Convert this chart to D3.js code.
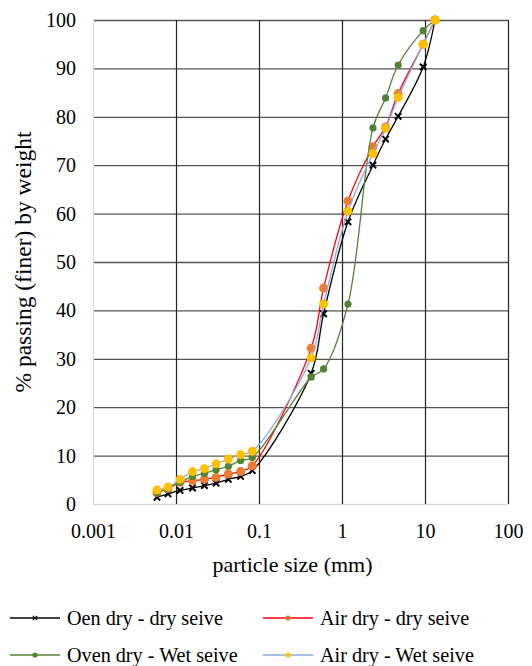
<!DOCTYPE html>
<html>
<head>
<meta charset="utf-8">
<script src="https://cdn.jsdelivr.net/npm/d3@7"></script>
</head>
<body style="margin:0; font-family: 'Times New Roman', 'Liberation Serif', serif">
<script>
// particle sizes (mm)
const sizes = [0.0059, 0.008, 0.0112, 0.0158, 0.022, 0.0304, 0.0427, 0.06, 0.083,
  0.425, 0.6, 1.18, 2.36, 3.35, 4.75, 9.5, 13.2];

const ovenDry = [1.4, 2.1, 2.8, 3.3, 3.8, 4.3, 5.1, 5.7, 6.9,
  27.0, 39.3, 58.3, 70.0, 75.4, 80.1, 90.3, 100];
const airDry = [2.4, 3.2, 4.5, 4.8, 5.1, 5.5, 6.2, 6.7, 7.9,
  32.2, 44.6, 62.6, 73.8, 77.9, 84.8, 95.0, 100];
const ovenWet = [2.3, 3.2, 4.5, 5.7, 6.3, 7.1, 7.8, 9.0, 9.6,
  26.2, 27.9, 41.3, 77.7, 83.9, 90.7, 97.8, 100];
const airWet = [2.9, 3.5, 5.1, 6.7, 7.3, 8.3, 9.3, 10.2, 10.9,
  30.2, 41.3, 60.5, 72.4, 77.6, 84.0, 95.0, 100];

const xTicks = [0.001, 0.01, 0.1, 1, 10, 100];
const xTickLabels = ["0.001", "0.01", "0.1", "1", "10", "100"];
const yTicks = [0, 10, 20, 30, 40, 50, 60, 70, 80, 90, 100];

const seriesInfo = [
  { label: "Oen dry - dry seive", values: ovenDry, line: "#000000", marker: "#000000", shape: "x" },
  { label: "Air dry - dry seive", values: airDry, line: "#FF0000", marker: "#ED7D31", shape: "dot", r: 4.5 },
  { label: "Oven dry - Wet seive", values: ovenWet, line: "#548235", marker: "#548235", shape: "dot", r: 3.6 },
  { label: "Air dry - Wet seive", values: airWet, line: "#8FAADC", marker: "#FFC000", shape: "dot", r: 4.5 },
];

const fontFam = "Times New Roman";
const width = 532;
const height = 666;
const margin = { top: 20, right: 24, bottom: 162, left: 93 };
const innerWidth = width - margin.left - margin.right;
const innerHeight = height - margin.top - margin.bottom;

const svg = d3.select("body").append("svg")
  .attr("width", width).attr("height", height)
  .attr("font-family", fontFam);

const xScale = d3.scaleLog().domain([0.001, 100]).range([0, innerWidth]);
const yScale = d3.scaleLinear().domain([0, 100]).range([innerHeight, 0]);

const innerChart = svg.append("g")
  .attr("transform", `translate(${margin.left}, ${margin.top})`);

// gridlines
innerChart.append("g")
  .call(d3.axisLeft(yScale).tickValues(yTicks).tickSize(-innerWidth).tickFormat(""))
  .call(g => g.select(".domain").remove())
  .call(g => g.selectAll("line").attr("stroke", "#555").attr("stroke-width", 1.3)
    .filter(d => d === 0).attr("stroke", "#d9d9d9"));

innerChart.append("g")
  .call(d3.axisBottom(xScale).tickValues(xTicks).tickSize(innerHeight).tickFormat(""))
  .call(g => g.select(".domain").remove())
  .call(g => g.selectAll("line").attr("stroke", "#222").attr("stroke-width", 1.2)
    .filter(d => d === 0.001).attr("stroke", "#d9d9d9"));

// tick labels
const leftAxis = d3.axisLeft(yScale).tickValues(yTicks).tickSize(0).tickPadding(17);
innerChart.append("g").call(leftAxis)
  .attr("font-family", fontFam).attr("font-size", 20)
  .call(g => g.select(".domain").remove())
  .call(g => g.selectAll("text").attr("fill", "#000"));

const bottomAxis = d3.axisBottom(xScale).tickValues(xTicks).tickSize(0).tickPadding(20)
  .tickFormat((d, i) => xTickLabels[i]);
innerChart.append("g").attr("transform", `translate(0, ${innerHeight})`).call(bottomAxis)
  .attr("font-family", fontFam).attr("font-size", 20)
  .call(g => g.select(".domain").remove())
  .call(g => g.selectAll("text").attr("fill", "#000"));

svg.append("text")
  .attr("x", margin.left + innerWidth / 2 - 8)
  .attr("y", 572)
  .attr("text-anchor", "middle")
  .attr("font-size", 22)
  .text("particle size (mm)");

svg.append("text")
  .attr("transform", `translate(31, ${margin.top + innerHeight / 2}) rotate(-90)`)
  .attr("text-anchor", "middle")
  .attr("font-size", 23.5)
  .text("% passing (finer) by weight");

// series
const lineGen = d3.line()
  .x(d => xScale(d[0]))
  .y(d => yScale(d[1]))
  .curve(d3.curveCatmullRom.alpha(0.5));

function drawMarker(g, shape, color, r, cx, cy) {
  if (shape === "x") {
    const s = r;
    g.append("path")
      .attr("d", `M${cx - s},${cy - s}L${cx + s},${cy + s}M${cx - s},${cy + s}L${cx + s},${cy - s}`)
      .attr("stroke", color).attr("stroke-width", r > 3 ? 2 : 1.2);
  } else {
    g.append("circle").attr("cx", cx).attr("cy", cy).attr("r", r).attr("fill", color);
  }
}

seriesInfo.forEach(s => {
  const pts = sizes.map((x, i) => [x, s.values[i]]);
  const g = innerChart.append("g");
  g.append("path")
    .attr("d", lineGen(pts))
    .attr("fill", "none")
    .attr("stroke", s.line)
    .attr("stroke-width", 1.3);
  pts.forEach(p => drawMarker(g, s.shape, s.marker, s.r || 3.2, xScale(p[0]), yScale(p[1])));
});

// legend
const legendPos = [[10, 618], [263, 618], [10, 655], [263, 655]];
seriesInfo.forEach((s, i) => {
  const [lx, ly] = legendPos[i];
  const g = svg.append("g");
  g.append("line").attr("x1", lx).attr("x2", lx + 50).attr("y1", ly).attr("y2", ly)
    .attr("stroke", s.line).attr("stroke-width", 1.3);
  drawMarker(g, s.shape, s.marker, s.shape === "x" ? 2.2 : 2.6, lx + 25, ly);
  g.append("text").attr("x", lx + 57).attr("y", ly).attr("dy", "0.35em")
    .attr("font-size", 20.2).text(s.label);
});
</script>
</body>
</html>
